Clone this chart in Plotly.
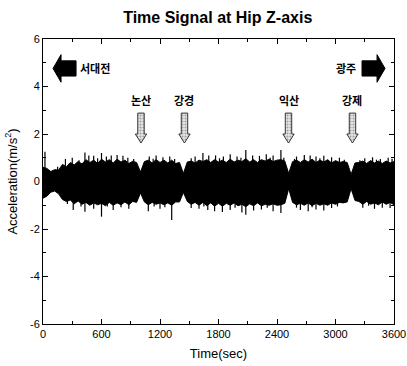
import plotly.graph_objects as go

# ---- data ----
t = [i * 40 for i in range(91)]
upper = [0.60, 0.55, 0.42, 0.50, 0.48, 0.72, 0.62, 0.80, 0.70, 0.84,
         0.74, 0.92, 0.80, 0.90, 0.76, 0.94, 0.82, 0.92, 0.78, 0.94,
         0.82, 0.90, 0.76, 0.85, 0.80, 0.40, 0.84, 0.90, 0.78, 0.92,
         0.80, 0.90, 0.78, 0.90, 0.76, 0.80, 0.34, 0.82, 0.86, 0.78,
         0.90, 0.84, 0.92, 0.80, 0.92, 0.82, 0.90, 0.80, 0.94, 0.82,
         0.90, 0.84, 0.96, 0.82, 0.92, 0.80, 0.92, 0.86, 0.94, 0.84,
         0.90, 0.92, 0.86, 0.34, 0.84, 0.90, 0.80, 0.92, 0.82, 0.94,
         0.80, 0.90, 0.82, 0.92, 0.78, 0.88, 0.80, 0.84, 0.80, 0.30,
         0.78, 0.80, 0.86, 0.76, 0.88, 0.78, 0.86, 0.76, 0.86, 0.78, 0.84]
lower = [-0.70, -0.62, -0.45, -0.40, -0.52, -0.76, -0.84, -0.78, -0.94, -0.82,
         -0.96, -0.88, -1.00, -0.90, -0.98, -0.92, -1.02, -0.88, -1.00, -0.90,
         -0.98, -0.86, -0.98, -0.84, -0.88, -0.48, -0.86, -0.98, -0.88, -0.96,
         -0.90, -0.98, -0.90, -1.00, -0.86, -0.86, -0.46, -0.84, -0.96, -0.88,
         -1.00, -0.88, -1.02, -0.90, -1.04, -0.92, -1.04, -0.92, -1.00, -0.90,
         -1.02, -0.96, -1.06, -0.94, -1.02, -0.90, -1.02, -0.96, -1.00, -0.94,
         -1.00, -0.98, -0.92, -0.30, -0.88, -0.98, -0.92, -1.00, -0.90, -1.02,
         -0.92, -1.00, -0.94, -1.00, -0.90, -0.96, -0.88, -0.90, -0.86, -0.30,
         -0.80, -0.84, -0.96, -0.84, -0.96, -0.90, -0.98, -0.86, -0.96, -0.88, -0.98]

spike_up_t = [20, 150, 230, 300, 370, 430, 470, 520, 560, 600, 650, 700, 760, 820, 870, 930,
              1090, 1130, 1160, 1230, 1300, 1350, 1520, 1560, 1640, 1700, 1770, 1810, 1850, 1920,
              1990, 2030, 2080, 2150, 2220, 2290, 2330, 2360, 2440, 2470, 2580, 2600, 2680, 2740,
              2800, 2840, 2880, 2960, 3040, 3090, 3250, 3300, 3380, 3420, 3460, 3540, 3580]
spike_up_v = [1.25, 0.62, 0.95, 1.00, 0.90, 1.22, 1.10, 1.08, 0.98, 1.20, 1.05, 1.10, 1.12, 1.08, 1.00, 0.95,
              1.05, 0.96, 1.10, 1.02, 1.05, 0.95, 0.98, 1.05, 1.20, 1.10, 1.10, 0.98, 1.05, 1.15,
              1.05, 1.00, 1.33, 1.10, 1.08, 1.15, 1.00, 1.10, 1.33, 1.00, 0.95, 1.05, 1.12, 1.10,
              1.05, 0.98, 1.08, 1.02, 1.00, 0.92, 0.90, 0.98, 1.02, 0.92, 0.95, 1.00, 0.96]
spike_dn_t = [250, 310, 390, 430, 520, 600, 660, 720, 800, 880, 1080, 1140, 1200, 1250, 1320,
              1520, 1600, 1650, 1690, 1760, 1840, 1920, 1970, 2040, 2080, 2160, 2240, 2300, 2360,
              2440, 2600, 2640, 2720, 2760, 2800, 2880, 2960, 3020, 3280, 3340, 3400, 3480, 3560]
spike_dn_v = [-0.95, -1.20, -1.05, -1.27, -1.15, -1.48, -1.05, -1.20, -1.08, -1.15, -1.25, -1.05, -1.15, -1.08, -1.62,
              -1.12, -1.15, -1.05, -1.20, -1.25, -1.28, -1.20, -1.10, -1.30, -1.40, -1.22, -1.18, -1.10, -1.25,
              -1.33, -1.10, -1.20, -1.25, -1.08, -1.18, -1.22, -1.12, -1.05, -1.10, -1.02, -1.15, -1.10, -1.12]

stations = ["논산", "강경", "익산", "강제"]
station_t = [1005, 1451, 2518, 3174]
ends = ["서대전", "광주"]

x_ticks = [0, 600, 1200, 1800, 2400, 3000, 3600]
y_ticks = [-6, -4, -2, 0, 2, 4, 6]

fig = go.Figure()

# signal envelope band
fig.add_trace(go.Scatter(x=t, y=lower, mode="lines", line=dict(color="black", width=1),
                         hoverinfo="skip", showlegend=False))
fig.add_trace(go.Scatter(x=t, y=upper, mode="lines", line=dict(color="black", width=1),
                         fill="tonexty", fillcolor="black", hoverinfo="skip", showlegend=False))

# spikes
sx, sy = [], []
for st, sv in zip(spike_up_t + spike_dn_t, spike_up_v + spike_dn_v):
    sx += [st, st, None]
    sy += [0, sv, None]
fig.add_trace(go.Scatter(x=sx, y=sy, mode="lines", line=dict(color="black", width=1.2),
                         hoverinfo="skip", showlegend=False))

# station down-arrows (hatched)
sh, hh = 33, 58
ytop, ybase, ytip = 2.88, 2.0, 1.62
for st in station_t:
    xs = [st - sh, st + sh, st + sh, st + hh, st, st - hh, st - sh, st - sh]
    ys = [ytop, ytop, ybase, ybase, ytip, ybase, ybase, ytop]
    fig.add_trace(go.Scatter(x=xs, y=ys, mode="lines", fill="toself",
                             line=dict(color="#333333", width=1),
                             fillcolor="#c8c8c8",
                             fillpattern=dict(shape=".", fgcolor="#555555", bgcolor="#e8e8e8", size=3, solidity=0.4),
                             hoverinfo="skip", showlegend=False))

for name, st in zip(stations, station_t):
    fig.add_annotation(x=st, y=3.43, text="<b>" + name + "</b>", showarrow=False,
                       font=dict(family="Noto Sans CJK KR", size=11, color="black"))

# big black direction arrows
yc, bh, hhh = 4.76, 0.32, 0.58
lx = [103, 185, 185, 339, 339, 185, 185, 103]
ly = [yc, yc + hhh, yc + bh, yc + bh, yc - bh, yc - bh, yc - hhh, yc]
fig.add_trace(go.Scatter(x=lx, y=ly, mode="lines", fill="toself", fillcolor="black",
                         line=dict(color="black", width=1), hoverinfo="skip", showlegend=False))
rx = [3272, 3426, 3426, 3508, 3426, 3426, 3272, 3272]
ry = [yc + bh, yc + bh, yc + hhh, yc, yc - hhh, yc - bh, yc - bh, yc + bh]
fig.add_trace(go.Scatter(x=rx, y=ry, mode="lines", fill="toself", fillcolor="black",
                         line=dict(color="black", width=1), hoverinfo="skip", showlegend=False))
fig.add_annotation(x=355, y=yc, text="<b>" + ends[0] + "</b>", showarrow=False, xanchor="left",
                   font=dict(family="Noto Sans CJK KR", size=11, color="black"))
fig.add_annotation(x=3230, y=yc, text="<b>" + ends[1] + "</b>", showarrow=False, xanchor="right",
                   font=dict(family="Noto Sans CJK KR", size=11, color="black"))

axis_common = dict(showline=True, linecolor="black", linewidth=1, mirror="ticks",
                   ticks="inside", ticklen=5, tickcolor="black", showgrid=False, zeroline=False,
                   automargin=False,
                   tickfont=dict(family="Liberation Sans, Arial", size=11, color="black"))

fig.update_xaxes(range=[0, 3600], tickvals=x_ticks, ticktext=[str(v) for v in x_ticks],
                 minor=dict(dtick=300, tick0=0, ticks="inside", ticklen=3, tickcolor="black"),
                 title=dict(text="Time(sec)", font=dict(family="Liberation Sans, Arial", size=13, color="black"), standoff=9),
                 **axis_common)
fig.update_yaxes(range=[-6, 6], tickvals=y_ticks, ticktext=[str(v) for v in y_ticks],
                 minor=dict(dtick=1, tick0=0, ticks="inside", ticklen=3, tickcolor="black"),
                 title=dict(text="Acceleration(m/s<sup>2</sup>)", font=dict(family="Liberation Sans, Arial", size=13, color="black"), standoff=9),
                 **axis_common)

fig.update_layout(
    width=407, height=366,
    margin=dict(l=43, r=13, t=39, b=42),
    paper_bgcolor="white", plot_bgcolor="white",
    title=dict(text="<b>Time Signal at Hip Z-axis</b>", x=0.535, xanchor="center",
               y=1 - 17 / 366, yanchor="middle", yref="container",
               font=dict(family="Liberation Sans, Arial", size=16, color="black")),
    showlegend=False,
)

fig.write_html("out.html", config={"displayModeBar": False},
               post_script="document.body.style.margin='0';document.body.style.padding='0';")
